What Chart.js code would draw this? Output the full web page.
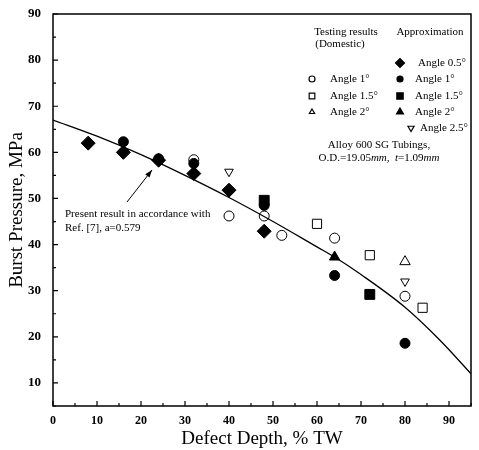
<!DOCTYPE html>
<html>
<head>
<meta charset="utf-8">
<script src="https://cdn.jsdelivr.net/npm/chart.js@4/dist/chart.umd.min.js"></script>
<style>
  html, body { margin: 0; padding: 0; background: #fff; }
  #wrap { width: 479px; height: 450px; }
</style>
</head>
<body>
<div id="wrap"><canvas id="main_chart" width="479" height="450"></canvas></div>
<script>
// ticks
const x_ticks = [0, 10, 20, 30, 40, 50, 60, 70, 80, 90];
const y_ticks = [10, 20, 30, 40, 50, 60, 70, 80, 90];

// model curve (present result, a=0.579)
const curve_x = [0, 10, 20, 30, 40, 50, 60, 64, 70, 80, 88, 95];
const curve_y = [67, 63.5, 59.5, 55, 50.2, 45, 39.5, 37.3, 33.5, 26.4, 19.2, 12];

// approximation
const approx_05_x = [8, 16, 24, 32, 40, 48];
const approx_05_y = [62, 60, 58.3, 55.4, 51.8, 42.9];
const approx_1_x = [16, 24, 32, 48, 64, 80];
const approx_1_y = [62.3, 58.6, 57.6, 48.5, 33.3, 18.6];
const approx_15_x = [48, 72];
const approx_15_y = [49.6, 29.2];
const approx_2_x = [64];
const approx_2_y = [37.3];
const approx_25_x = [40, 80];
const approx_25_y = [55.8, 32];

// testing results (domestic)
const test_1_x = [32, 40, 48, 52, 64, 80];
const test_1_y = [58.4, 46.2, 46.2, 42, 41.4, 28.8];
const test_15_x = [60, 72, 84];
const test_15_y = [44.5, 37.7, 26.3];
const test_2_x = [80];
const test_2_y = [36.3];

const to_points = (xs, ys) => xs.map((x, i) => ({ x: x, y: ys[i] }));

const serif = '"Liberation Serif", "DejaVu Serif", serif';

const mark = (label, xs, ys, style, radius, filled, rotation) => ({
  label: label,
  data: to_points(xs, ys),
  pointStyle: style,
  pointRadius: radius,
  pointRotation: rotation || 0,
  pointBackgroundColor: filled ? '#000' : '#fff',
  pointBorderColor: '#000',
  pointBorderWidth: 1,
  showLine: false,
});

const frame_plugin = {
  id: 'frame',
  afterDraw(chart) {
    const ctx = chart.ctx;
    const a = chart.chartArea;
    const xs = chart.scales.x;
    const ys = chart.scales.y;
    ctx.save();
    ctx.strokeStyle = '#000';
    ctx.lineWidth = 1.5;
    ctx.strokeRect(a.left, a.top, a.right - a.left, a.bottom - a.top);

    // inward ticks
    ctx.lineWidth = 1.2;
    ctx.beginPath();
    for (let v = 0; v <= 95; v += 5) {
      const len = v % 10 === 0 ? 5 : 3;
      const px = xs.getPixelForValue(v);
      ctx.moveTo(px, a.bottom);
      ctx.lineTo(px, a.bottom - len);
    }
    for (let v = 5; v <= 90; v += 5) {
      const len = v % 10 === 0 ? 5 : 3;
      const py = ys.getPixelForValue(v);
      ctx.moveTo(a.left, py);
      ctx.lineTo(a.left + len, py);
    }
    ctx.stroke();

    // annotation texts
    ctx.fillStyle = '#000';
    ctx.textBaseline = 'middle';
    ctx.font = '11px ' + serif;
    ctx.textAlign = 'center';
    ctx.fillText('Testing results', 346, 32);
    ctx.fillText('(Domestic)', 340, 44);
    ctx.fillText('Approximation', 430, 32);

    const rows = [63, 79, 96, 112, 128];
    const draw_mark = (x, y, style, r, filled, rot) => {
      ctx.fillStyle = filled ? '#000' : '#fff';
      ctx.strokeStyle = '#000';
      Chart.helpers.drawPoint(ctx, { pointStyle: style, radius: r, rotation: rot || 0, borderWidth: 1 }, x, y);
    };
    draw_mark(400, rows[0], 'rectRot', 4.5, true);
    draw_mark(400, rows[1], 'circle', 3, true);
    draw_mark(400, rows[2], 'rect', 4.5, true);
    draw_mark(400, rows[3], 'triangle', 4, true);
    draw_mark(411, rows[4], 'triangle', 3.5, false, 180);
    draw_mark(312, rows[1], 'circle', 3, false);
    draw_mark(312, rows[2], 'rect', 4, false);
    draw_mark(312, rows[3], 'triangle', 3, false);

    ctx.fillStyle = '#000';
    ctx.textAlign = 'left';
    ctx.fillText('Angle 0.5°', 418, rows[0]);
    ctx.fillText('Angle 1°', 415, rows[1]);
    ctx.fillText('Angle 1.5°', 415, rows[2]);
    ctx.fillText('Angle 2°', 415, rows[3]);
    ctx.fillText('Angle 2.5°', 420, rows[4]);
    ctx.fillText('Angle 1°', 330, rows[1]);
    ctx.fillText('Angle 1.5°', 330, rows[2]);
    ctx.fillText('Angle 2°', 330, rows[3]);

    ctx.textAlign = 'center';
    ctx.fillText('Alloy 600 SG Tubings,', 379, 145);

    // O.D. line with italic units
    const parts = [
      ['O.D.=19.05', false], ['mm', true], [',  ', false], ['t', true], ['=1.09', false], ['mm', true],
    ];
    let total = 0;
    parts.forEach(([s, it]) => {
      ctx.font = (it ? 'italic ' : '') + '11px ' + serif;
      total += ctx.measureText(s).width;
    });
    let cx = 379 - total / 2;
    ctx.textAlign = 'left';
    parts.forEach(([s, it]) => {
      ctx.font = (it ? 'italic ' : '') + '11px ' + serif;
      ctx.fillText(s, cx, 158);
      cx += ctx.measureText(s).width;
    });

    ctx.font = '11px ' + serif;
    ctx.fillText('Present result in accordance with', 65, 214);
    ctx.fillText('Ref. [7], a=0.579', 65, 228);

    // arrow
    const tx = 127, ty = 202, hx = 152, hy = 170;
    ctx.lineWidth = 1;
    ctx.beginPath();
    ctx.moveTo(tx, ty);
    ctx.lineTo(hx, hy);
    ctx.stroke();
    const ang = Math.atan2(hy - ty, hx - tx);
    ctx.beginPath();
    ctx.moveTo(hx, hy);
    ctx.lineTo(hx - 8 * Math.cos(ang - 0.35), hy - 8 * Math.sin(ang - 0.35));
    ctx.lineTo(hx - 8 * Math.cos(ang + 0.35), hy - 8 * Math.sin(ang + 0.35));
    ctx.closePath();
    ctx.fill();
    ctx.restore();
  }
};

const init_chart = () => {
  const data = {
    datasets: [
      {
        label: 'Present result',
        data: to_points(curve_x, curve_y),
        showLine: true,
        borderColor: '#000',
        borderWidth: 1.3,
        pointRadius: 0,
        tension: 0.4,
        cubicInterpolationMode: 'monotone',
        fill: false,
      },
      mark('Approx. Angle 0.5°', approx_05_x, approx_05_y, 'rectRot', 7, true),
      mark('Approx. Angle 1°', approx_1_x, approx_1_y, 'circle', 5, true),
      mark('Approx. Angle 1.5°', approx_15_x, approx_15_y, 'rect', 7, true),
      mark('Approx. Angle 2°', approx_2_x, approx_2_y, 'triangle', 6, true),
      mark('Approx. Angle 2.5°', approx_25_x, approx_25_y, 'triangle', 5, false, 180),
      mark('Testing Angle 1°', test_1_x, test_1_y, 'circle', 5, false),
      mark('Testing Angle 1.5°', test_15_x, test_15_y, 'rect', 6.5, false),
      mark('Testing Angle 2°', test_2_x, test_2_y, 'triangle', 6, false),
    ]
  };

  const options = {
    responsive: false,
    animation: false,
    layout: { padding: { top: 14, right: 4, left: 0, bottom: 0 } },
    plugins: {
      legend: { display: false },
      tooltip: { enabled: false },
    },
    scales: {
      x: {
        type: 'linear',
        min: 0,
        max: 95,
        grid: { display: false },
        border: { display: false },
        afterBuildTicks: (scale) => { scale.ticks = x_ticks.map(v => ({ value: v })); },
        afterFit: (scale) => { scale.height = 44; },
        ticks: {
          color: '#000',
          padding: 0,
          font: { family: serif, size: 12, weight: 'bold' },
        },
        title: {
          display: true,
          text: 'Defect Depth, % TW',
          color: '#000',
          padding: { top: 0, bottom: 0 },
          font: { family: serif, size: 19 },
        },
      },
      y: {
        type: 'linear',
        min: 5,
        max: 90,
        grid: { display: false },
        border: { display: false },
        afterBuildTicks: (scale) => { scale.ticks = y_ticks.map(v => ({ value: v })); },
        afterFit: (scale) => { scale.width = 53; },
        ticks: {
          color: '#000',
          padding: 4,
          font: { family: serif, size: 13, weight: 'bold' },
        },
        title: {
          display: true,
          text: 'Burst Pressure, MPa',
          color: '#000',
          padding: { top: 6, bottom: 0 },
          font: { family: serif, size: 19 },
        },
      },
    },
  };

  new Chart('main_chart', {
    type: 'scatter',
    data: data,
    options: options,
    plugins: [frame_plugin],
  });
};

init_chart();
</script>
</body>
</html>
